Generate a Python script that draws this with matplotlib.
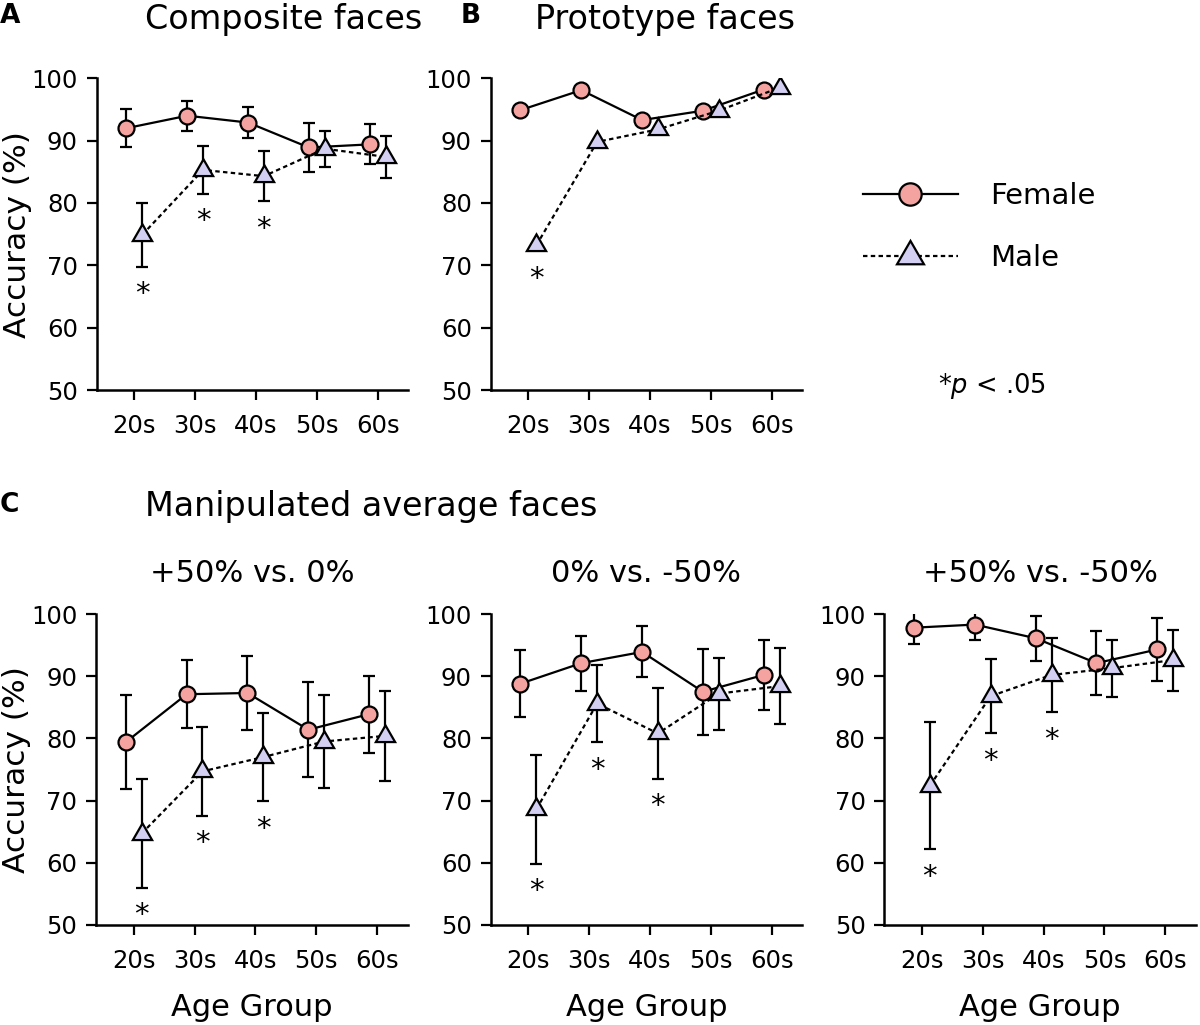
import matplotlib
matplotlib.use("Agg")
import matplotlib.pyplot as plt

# Age groups on the x axis
ages = ["20s", "30s", "40s", "50s", "60s"]

# A: composite faces
comp_female = [92.0, 94.0, 92.9, 88.9, 89.4]
comp_female_err = [3.0, 2.4, 2.5, 4.0, 3.2]
comp_male = [74.9, 85.3, 84.3, 88.7, 87.4]
comp_male_err = [5.1, 3.8, 4.0, 2.9, 3.4]
comp_sig = [True, True, True, False, False]

# B: prototype faces (no visible error bars)
proto_female = [94.9, 98.1, 93.3, 94.8, 98.2]
proto_male = [73.2, 89.8, 91.8, 94.8, 98.5]
proto_sig = [True, False, False, False, False]

# C: manipulated average faces
c1_female = [79.4, 87.1, 87.3, 81.4, 83.9]
c1_female_err = [7.6, 5.5, 6.0, 7.6, 6.2]
c1_male = [64.7, 74.7, 77.0, 79.5, 80.4]
c1_male_err = [8.7, 7.1, 7.1, 7.5, 7.2]
c1_sig = [True, True, True, False, False]

c2_female = [88.8, 92.1, 93.9, 87.5, 90.2]
c2_female_err = [5.4, 4.4, 4.1, 6.9, 5.7]
c2_male = [68.6, 85.6, 80.8, 87.2, 88.4]
c2_male_err = [8.8, 6.2, 7.3, 5.8, 6.1]
c2_sig = [True, True, True, False, False]

c3_female = [97.8, 98.3, 96.1, 92.1, 94.3]
c3_female_err = [2.7, 2.5, 3.6, 5.2, 5.0]
c3_male = [72.4, 86.8, 90.2, 91.3, 92.6]
c3_male_err = [10.2, 6.0, 6.0, 4.6, 4.9]
c3_sig = [True, True, True, False, False]

FEMALE_COLOR = "#f4a3a1"
MALE_COLOR = "#d2cff2"
OFFSET = 0.13
LW = 1.6
STAR_FS = 21

W, H = 1200, 1025
fig = plt.figure(figsize=(W / 100, H / 100), dpi=100, facecolor="white")


def rect(left_px, bottom_px, right_px, top_px):
    return [left_px / W, 1 - bottom_px / H, (right_px - left_px) / W, (bottom_px - top_px) / H]


def draw_panel(ax, female, male, female_err=None, male_err=None, sig=None):
    xs = range(len(ages))
    xf = [x - OFFSET for x in xs]
    xm = [x + OFFSET for x in xs]

    if female_err is not None:
        ax.errorbar(xf, female, yerr=female_err, fmt="none", ecolor="black",
                    elinewidth=LW, capsize=4, capthick=LW, zorder=2)
    if male_err is not None:
        ax.errorbar(xm, male, yerr=male_err, fmt="none", ecolor="black",
                    elinewidth=LW, capsize=4, capthick=LW, zorder=4)

    lf, = ax.plot(xf, female, color="black", lw=LW, ls="-", marker="o",
                  markersize=11.5, markerfacecolor=FEMALE_COLOR,
                  markeredgecolor="black", markeredgewidth=1.6, zorder=3)
    lm, = ax.plot(xm, male, color="black", lw=LW, ls=(0, (2.0, 1.5)),
                  marker=(3, 0, 0), markersize=16, markerfacecolor=MALE_COLOR,
                  markeredgecolor="black", markeredgewidth=1.6, zorder=5)

    # significance stars below the male error bars
    if sig is not None:
        errs = male_err if male_err is not None else [1.0] * len(male)
        for x, y, e, s in zip(xm, male, errs, sig):
            if s:
                ax.annotate("*", xy=(x, y - e - 3.0), xytext=(0, -0.575 * STAR_FS),
                            textcoords="offset points", ha="center",
                            va="baseline", fontsize=STAR_FS)

    ax.set_xlim(-0.62, 4.5)
    ax.set_ylim(50, 100)
    ax.set_xticks(list(xs))
    ax.set_xticklabels(ages)
    ax.set_yticks([50, 60, 70, 80, 90, 100])
    for side in ("top", "right"):
        ax.spines[side].set_visible(False)
    for side in ("left", "bottom"):
        ax.spines[side].set_linewidth(1.8)
    ax.tick_params(direction="out", length=7.5, width=1.6, labelsize=17.5)
    ax.tick_params(axis="x", pad=10)
    ax.tick_params(axis="y", pad=6)
    return lf, lm


ax_a = fig.add_axes(rect(96.7, 390, 408, 78.3))
ax_b = fig.add_axes(rect(490.7, 390, 802, 78.3))
ax_c1 = fig.add_axes(rect(96, 925, 407.5, 614))
ax_c2 = fig.add_axes(rect(490.7, 925, 802, 614))
ax_c3 = fig.add_axes(rect(884.3, 925, 1195.6, 614))

lf, lm = draw_panel(ax_a, comp_female, comp_male, comp_female_err, comp_male_err, comp_sig)
draw_panel(ax_b, proto_female, proto_male, sig=proto_sig)
draw_panel(ax_c1, c1_female, c1_male, c1_female_err, c1_male_err, c1_sig)
draw_panel(ax_c2, c2_female, c2_male, c2_female_err, c2_male_err, c2_sig)
draw_panel(ax_c3, c3_female, c3_male, c3_female_err, c3_male_err, c3_sig)

for ax in (ax_a, ax_c1):
    ax.set_ylabel("Accuracy (%)", fontsize=22.5, labelpad=0)
for ax in (ax_c1, ax_c2, ax_c3):
    ax.set_xlabel("Age Group", fontsize=22, labelpad=14)

ax_c1.set_title("+50% vs. 0%", fontsize=22, pad=23)
ax_c2.set_title("0% vs. -50%", fontsize=22, pad=23)
ax_c3.set_title("+50% vs. -50%", fontsize=22, pad=23)

# panel headings
fig.text(145 / W, 1 - 29 / H, "Composite faces", fontsize=24, va="baseline")
fig.text(535 / W, 1 - 29 / H, "Prototype faces", fontsize=24, va="baseline")
fig.text(145 / W, 1 - 516 / H, "Manipulated average faces", fontsize=24, va="baseline")
fig.text(0 / W, 1 - 23 / H, "A", fontsize=19, fontweight="bold", va="baseline")
fig.text(461 / W, 1 - 23 / H, "B", fontsize=19, fontweight="bold", va="baseline")
fig.text(0 / W, 1 - 512 / H, "C", fontsize=19, fontweight="bold", va="baseline")

fig.legend([lf, lm], ["Female", "Male"], loc="center left",
           bbox_to_anchor=(863 / W, 1 - 227 / H), frameon=False, fontsize=21,
           handlelength=3.25, handletextpad=1.1, labelspacing=1.15,
           borderpad=0, borderaxespad=0, numpoints=1, markerscale=1.4)
fig.text(938 / W, 1 - 386 / H, "*$p$ < .05", fontsize=18.5, va="center")

fig.savefig("out.png", dpi=100, facecolor="white")
